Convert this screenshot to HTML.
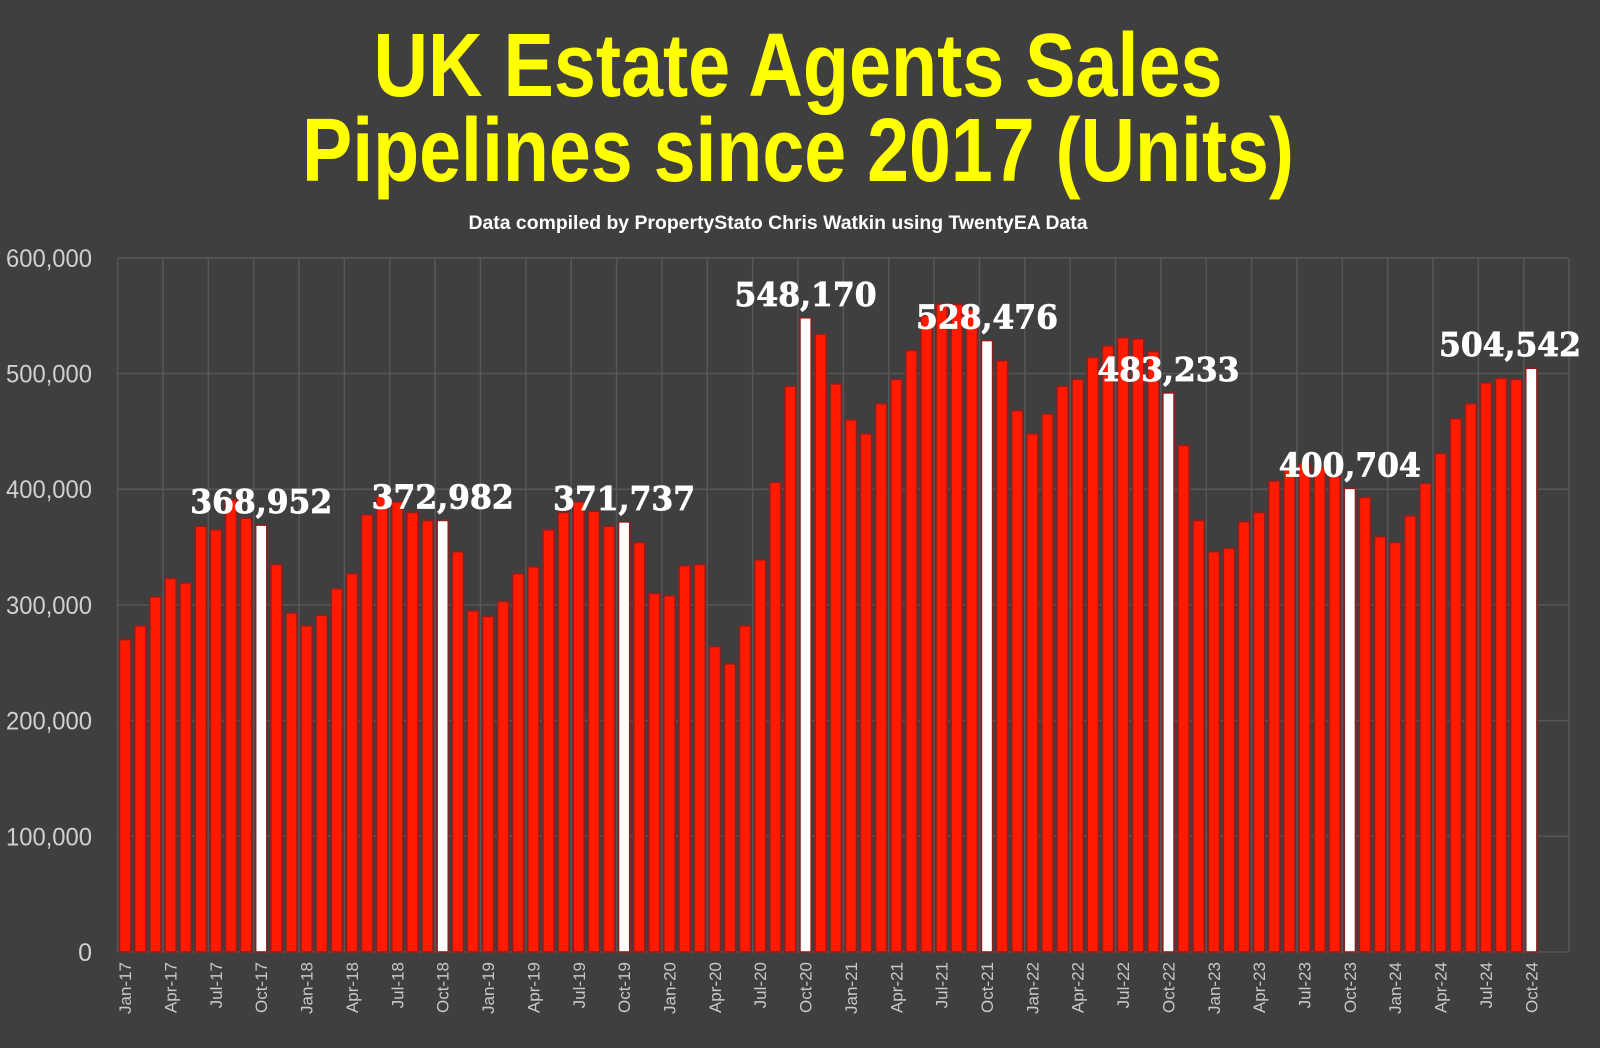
<!DOCTYPE html>
<html><head><meta charset="utf-8"><style>
html,body{margin:0;padding:0;background:#3f3f3f;}
svg{display:block;}
</style></head><body>
<svg id="c" width="1600" height="1048" xmlns="http://www.w3.org/2000/svg">
<rect width="1600" height="1048" fill="#3f3f3f"/>
<text x="798" y="96" fill="#ffff00" font-family="Liberation Sans, sans-serif" font-weight="bold" font-size="90" text-anchor="middle" textLength="849" lengthAdjust="spacingAndGlyphs">UK Estate Agents Sales</text>
<text x="798" y="181" fill="#ffff00" font-family="Liberation Sans, sans-serif" font-weight="bold" font-size="90" text-anchor="middle" textLength="992" lengthAdjust="spacingAndGlyphs">Pipelines since 2017 (Units)</text>
<text x="778" y="229" fill="#ffffff" font-family="Liberation Sans, sans-serif" font-weight="bold" font-size="19" text-anchor="middle" textLength="619" lengthAdjust="spacingAndGlyphs">Data compiled by PropertyStato Chris Watkin using TwentyEA Data</text>
<g id="g"></g>
</svg>
<script>
(function(){
var vals=[270,282,307,323,319,368,365,391,375,368.952,335,293,
282,291,314,327,378,394,389,380,373,372.982,346,295,
290,303,327,333,365,380,389,381,368,371.737,354,310,
308,334,335,264,249,282,339,406,489,548.170,534,491,
460,448,474,495,520,550,560,560,555,528.476,511,468,
448,465,489,495,514,524,531,530,519,483.233,438,373,
346,349,372,380,407,418,422,419,411,400.704,393,359,
354,377,405,431,461,474,492,496,495,504.542];
var mons=["Jan","Apr","Jul","Oct"];
var L=117.6,step=15.12,Z=952,S=1.157;
var h='';
for(var k=0;k<=32;k++){var x=L+k*45.36;h+='<line x1="'+x+'" y1="258" x2="'+x+'" y2="952" stroke="#575757" stroke-width="1.5"/>';}
for(var j=0;j<=6;j++){var yy=Z-j*115.7;h+='<line x1="118" y1="'+yy+'" x2="1568" y2="'+yy+'" stroke="#575757" stroke-width="1.5"/>';
var t=j==0?'0':(j*100)+',000';
h+='<text x="92" y="'+(yy+9)+'" fill="#d0d0d0" font-family="Liberation Sans, sans-serif" font-size="25" text-anchor="end"'+(j?' textLength="86" lengthAdjust="spacingAndGlyphs"':'')+'>'+t+'</text>';}
var labels=[];
for(var i=0;i<vals.length;i++){
 var cx=L+step*(i+0.5);var v=vals[i];var bt=Z-v*S;var w=(i%12==9);
 h+='<rect x="'+(cx-5.6)+'" y="'+bt+'" width="11.2" height="'+(Z-bt)+'" fill="'+(w?'#ffffff':'#ff1a00')+'" stroke="#8a2020" stroke-width="1.6"/>';
 if(i%3==0){var yr=17+Math.floor(i/12);
  h+='<text transform="translate('+(cx+6)+',962) rotate(-90)" fill="#c8c8c8" font-family="Liberation Sans, sans-serif" font-size="17" text-anchor="end">'+mons[(i%12)/3]+'-'+yr+'</text>';}
 if(w){var s=v.toFixed(3).replace('.',',');var lx=Math.min(cx,1510);
  labels.push('<text x="'+lx+'" y="'+(bt-12)+'" fill="#ffffff" stroke="#ffffff" stroke-width="0.8" font-family="DejaVu Serif, serif" font-weight="bold" font-size="33" text-anchor="middle" textLength="142" lengthAdjust="spacingAndGlyphs">'+s+'</text>');}
}
document.getElementById('g').innerHTML=h+labels.join('');
})();
</script>
</body></html>
